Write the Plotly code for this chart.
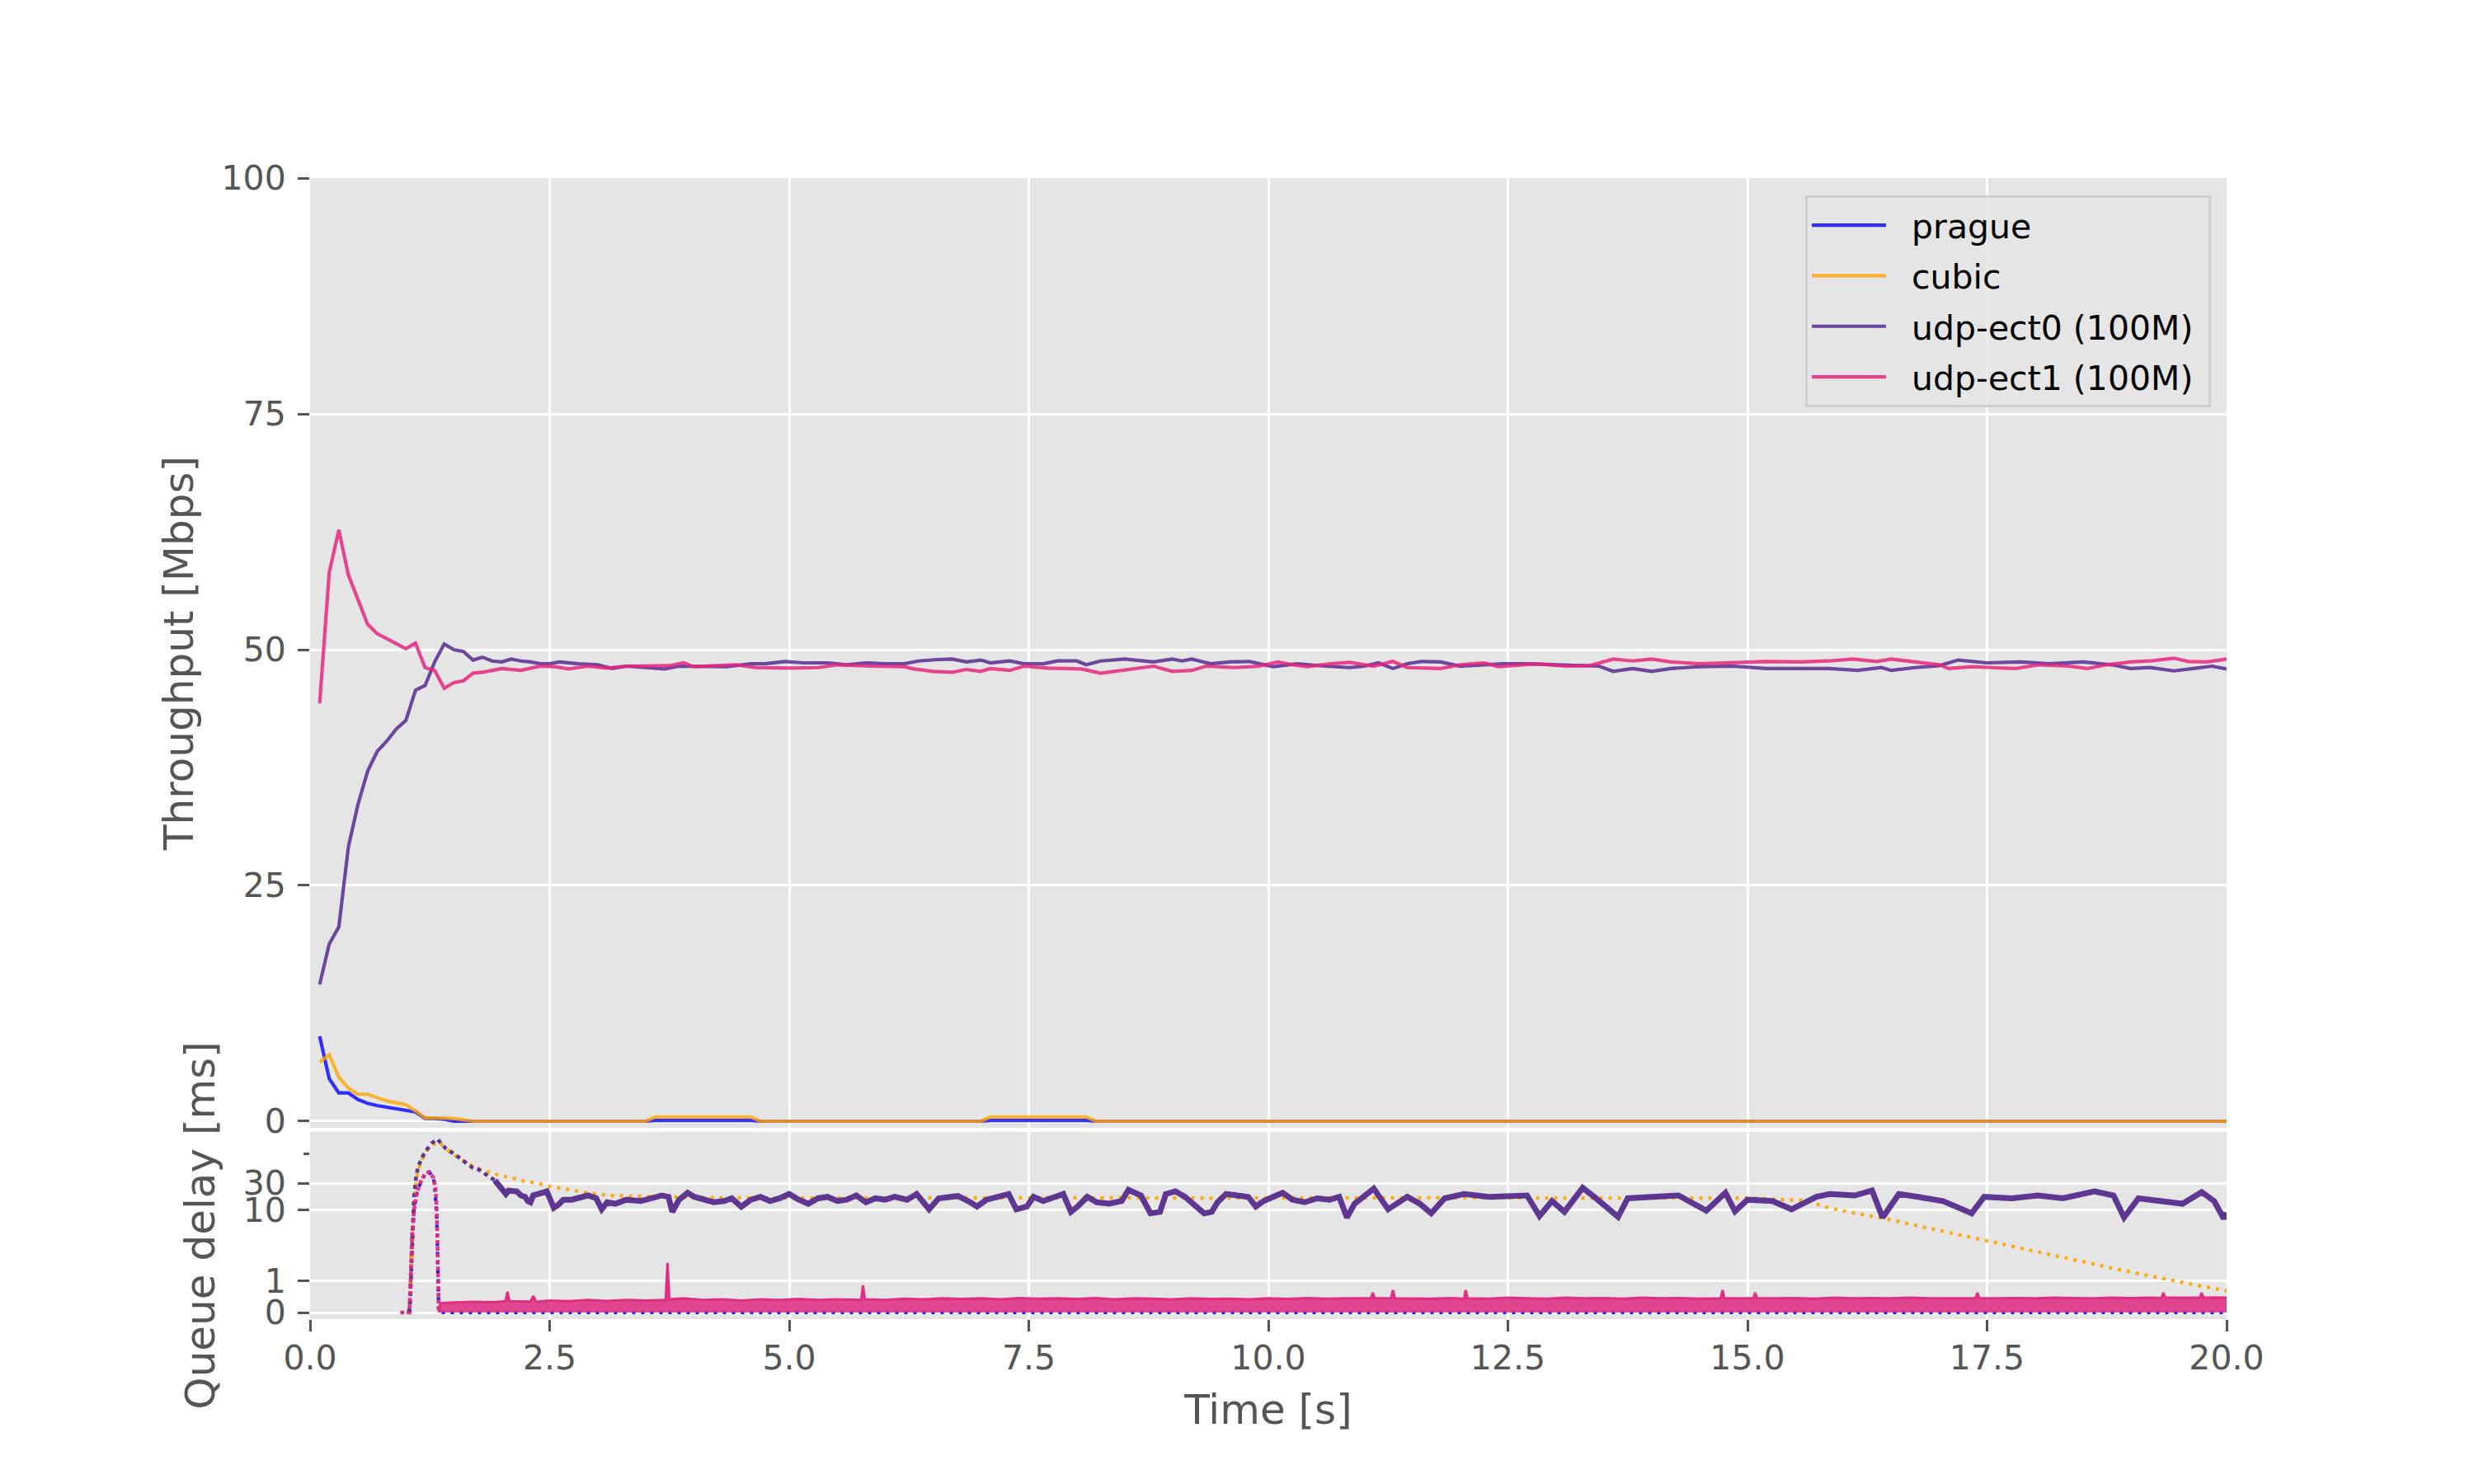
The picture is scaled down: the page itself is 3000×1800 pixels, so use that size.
import math
import plotly.graph_objects as go

# ---------------- data ----------------
# Throughput [Mbps]
prague_tp = [(0.1, 9.0), (0.2, 4.5), (0.3, 3.0), (0.4, 3.0), (0.5, 2.3), (0.6, 1.9), (0.7, 1.66), (0.8, 1.47),
             (0.9, 1.33), (1.0, 1.17), (1.1, 0.99), (1.2, 0.3), (1.3, 0.3), (1.4, 0.2), (1.5, 0.0), (1.6, 0.0),
             (3.5, 0.0), (3.6, 0.1), (4.6, 0.1), (4.7, 0.0), (7.0, 0.0), (7.1, 0.1), (8.1, 0.1), (8.2, 0.0), (20.0, 0.0)]
cubic_tp = [(0.1, 6.27), (0.2, 7.05), (0.3, 4.66), (0.4, 3.5), (0.5, 2.86), (0.6, 2.86), (0.7, 2.5), (0.8, 2.16),
            (0.9, 1.95), (1.0, 1.75), (1.1, 1.1), (1.2, 0.35), (1.3, 0.35), (1.4, 0.3), (1.5, 0.3), (1.6, 0.15),
            (1.7, 0.0), (3.5, 0.0), (3.6, 0.45), (4.6, 0.45), (4.7, 0.0), (7.0, 0.0), (7.1, 0.45), (8.1, 0.45),
            (8.2, 0.0), (20.0, 0.0)]
ect0_tp = [(0.1, 14.5), (0.2, 18.8), (0.3, 20.6), (0.4, 29.1), (0.5, 33.6), (0.6, 37.1), (0.7, 39.2), (0.8, 40.3),
           (0.9, 41.6), (1.0, 42.5), (1.1, 45.7), (1.2, 46.2), (1.3, 48.7), (1.4, 50.6), (1.5, 50.0), (1.6, 49.8),
           (1.7, 48.9), (1.8, 49.2), (1.9, 48.8), (2.0, 48.7), (2.1, 49.0), (2.2, 48.8), (2.3, 48.7), (2.4, 48.5),
           (2.5, 48.5), (2.6, 48.7), (2.8, 48.5), (3.0, 48.4), (3.15, 48.0), (3.3, 48.25), (3.5, 48.1), (3.7, 47.96),
           (3.85, 48.25), (4.05, 48.2), (4.35, 48.2), (4.6, 48.5), (4.75, 48.5), (4.95, 48.75), (5.15, 48.6),
           (5.4, 48.6), (5.6, 48.4), (5.8, 48.6), (6.0, 48.5), (6.2, 48.5), (6.35, 48.8), (6.55, 48.95), (6.7, 49.0),
           (6.85, 48.7), (7.0, 48.9), (7.1, 48.6), (7.3, 48.8), (7.45, 48.5), (7.65, 48.5), (7.8, 48.8), (8.0, 48.8),
           (8.1, 48.4), (8.25, 48.8), (8.5, 49.0), (8.8, 48.7), (9.0, 49.0), (9.1, 48.8), (9.2, 49.0), (9.4, 48.5),
           (9.6, 48.7), (9.8, 48.75), (10.05, 48.2), (10.3, 48.5), (10.6, 48.25), (10.85, 48.1), (11.0, 48.25),
           (11.15, 48.6), (11.3, 48.0), (11.45, 48.5), (11.6, 48.75), (11.8, 48.7), (12.0, 48.25), (12.25, 48.4),
           (12.45, 48.5), (12.7, 48.5), (12.95, 48.4), (13.2, 48.3), (13.45, 48.25), (13.6, 47.7), (13.8, 48.0),
           (14.0, 47.7), (14.2, 48.0), (14.5, 48.2), (14.85, 48.25), (15.2, 48.0), (15.55, 48.0), (15.85, 48.0),
           (16.15, 47.8), (16.4, 48.1), (16.5, 47.8), (16.75, 48.1), (17.0, 48.3), (17.2, 48.9), (17.5, 48.6),
           (17.85, 48.7), (18.15, 48.5), (18.5, 48.7), (18.8, 48.4), (19.0, 48.0), (19.2, 48.1), (19.45, 47.75),
           (19.65, 48.0), (19.85, 48.25), (20.0, 47.96)]
ect1_tp = [(0.1, 44.3), (0.2, 58.2), (0.3, 62.7), (0.4, 57.9), (0.5, 55.3), (0.6, 52.7), (0.7, 51.7), (0.8, 51.2),
           (0.9, 50.6), (1.0, 50.1), (1.1, 50.7), (1.2, 48.1), (1.3, 47.8), (1.4, 45.9), (1.5, 46.5), (1.6, 46.7),
           (1.7, 47.5), (1.8, 47.6), (1.9, 47.8), (2.0, 48.0), (2.2, 47.8), (2.4, 48.25), (2.55, 48.2), (2.7, 47.96),
           (2.9, 48.25), (3.1, 48.05), (3.3, 48.25), (3.6, 48.3), (3.75, 48.3), (3.9, 48.6), (4.0, 48.2), (4.25, 48.3),
           (4.45, 48.4), (4.65, 48.1), (5.0, 48.05), (5.3, 48.1), (5.5, 48.4), (5.85, 48.25), (6.2, 48.2), (6.3, 47.96),
           (6.5, 47.7), (6.7, 47.6), (6.85, 47.9), (7.0, 47.7), (7.1, 48.0), (7.3, 47.8), (7.45, 48.25), (7.7, 48.05),
           (8.05, 47.96), (8.25, 47.5), (8.5, 47.8), (8.8, 48.25), (9.0, 47.7), (9.2, 47.8), (9.35, 48.25),
           (9.65, 48.1), (9.9, 48.25), (10.0, 48.5), (10.1, 48.7), (10.25, 48.4), (10.4, 48.2), (10.65, 48.5),
           (10.85, 48.65), (11.1, 48.25), (11.3, 48.75), (11.45, 48.1), (11.8, 48.0), (12.0, 48.4), (12.25, 48.6),
           (12.4, 48.2), (12.8, 48.5), (13.1, 48.25), (13.35, 48.3), (13.6, 49.0), (13.8, 48.8), (14.0, 49.0),
           (14.2, 48.7), (14.5, 48.5), (14.85, 48.6), (15.2, 48.75), (15.55, 48.7), (15.85, 48.8), (16.1, 49.0),
           (16.35, 48.75), (16.5, 49.0), (16.75, 48.7), (17.0, 48.4), (17.1, 48.0), (17.35, 48.2), (17.55, 48.1),
           (17.8, 48.0), (18.05, 48.4), (18.35, 48.25), (18.55, 48.0), (18.75, 48.4), (19.0, 48.7), (19.2, 48.8),
           (19.45, 49.1), (19.6, 48.75), (19.8, 48.7), (20.0, 49.0)]

# Queue delay [ms]
prague_delay = [(1.04, 0.0), (1.051, 1.45), (1.066, 3.8), (1.086, 10.4), (1.114, 20.4), (1.157, 32.0),
                (1.2, 43.7), (1.243, 47.3), (1.286, 37.7), (1.3, 28.5), (1.314, 14.5), (1.323, 6.7),
                (1.329, 2.19), (1.334, 1.19), (1.337, 0.32), (1.343, 0.0), (20.0, 0.0)]
cubic_delay = [(1.03, 0.0), (1.043, 0.5), (1.057, 1.5), (1.071, 6.0), (1.086, 15.0), (1.109, 35.0), (1.129, 52.0),
               (1.171, 80.0), (1.214, 110.0), (1.271, 140.0), (1.343, 160.0), (1.471, 103.5), (1.586, 77.6),
               (1.643, 66.1), (1.814, 49.6), (1.9, 45.7), (2.0, 39.8), (2.086, 38.5), (2.186, 33.5), (2.271, 32.4),
               (2.371, 30.1), (2.457, 26.9), (2.557, 25.4), (2.643, 24.0), (2.729, 22.9), (2.829, 20.9),
               (2.929, 19.9), (3.014, 19.0), (3.114, 18.2), (3.286, 17.8), (3.6, 17.2), (4.2, 16.6), (5.0, 16.4),
               (6.0, 16.6), (7.0, 16.4), (8.0, 16.6), (9.0, 16.4), (10.0, 16.6), (11.0, 16.4), (12.0, 16.6),
               (13.0, 16.4), (14.0, 16.6), (15.0, 16.4), (15.62, 14.8), (15.79, 11.6), (15.99, 9.8), (16.45, 7.0),
               (16.91, 4.73), (17.5, 2.88), (18.22, 1.8), (18.95, 1.32), (19.67, 0.88), (19.97, 0.71), (20.0, 0.69)]
ect0_delay = [(1.03, 0.0), (1.043, 0.32), (1.051, 0.93), (1.057, 1.45), (1.066, 2.43), (1.071, 9.3), (1.086, 18.2),
              (1.109, 42.2), (1.129, 58.9), (1.171, 87.1), (1.214, 115.0), (1.271, 153.0), (1.329, 180.0),
              (1.414, 124.0), (1.471, 108.0), (1.529, 92.0), (1.586, 77.6), (1.643, 66.0), (1.7, 55.6),
              (1.757, 52.5), (1.814, 44.7), (1.871, 39.8), (1.929, 33.5), (1.971, 26.9), (2.014, 21.5),
              (2.043, 19.3), (2.071, 22.1), (2.129, 20.9), (2.157, 21.5), (2.2, 18.2), (2.243, 17.2), (2.271, 14.5),
              (2.3, 13.8), (2.329, 18.2), (2.386, 19.3), (2.443, 20.3), (2.471, 21.5), (2.514, 14.5), (2.543, 11.0),
              (2.586, 12.3), (2.643, 15.3), (2.729, 15.3), (2.814, 17.2), (2.9, 18.2), (2.986, 16.2), (3.043, 10.35),
              (3.1, 13.8), (3.186, 13.0), (3.3, 15.3), (3.45, 14.5), (3.51, 15.3), (3.6, 17.2), (3.67, 18.2),
              (3.74, 17.2), (3.78, 9.3), (3.85, 15.3), (3.94, 20.3), (4.01, 17.2), (4.1, 15.3), (4.21, 13.8),
              (4.32, 14.5), (4.4, 16.2), (4.5, 11.5), (4.6, 15.3), (4.7, 17.2), (4.8, 14.5), (4.9, 16.2), (5.0, 19.3),
              (5.1, 15.3), (5.2, 13.0), (5.3, 16.2), (5.4, 17.2), (5.5, 14.5), (5.6, 15.3), (5.7, 18.2), (5.8, 13.8),
              (5.9, 16.2), (6.0, 15.3), (6.1, 17.2), (6.23, 15.3), (6.33, 19.3), (6.46, 10.35), (6.56, 16.2),
              (6.66, 17.2), (6.76, 17.8), (6.89, 13.8), (6.96, 11.6), (7.06, 15.3), (7.19, 17.2), (7.29, 19.3),
              (7.37, 10.35), (7.48, 11.6), (7.55, 17.2), (7.65, 14.5), (7.75, 16.6), (7.86, 19.3), (7.94, 9.33),
              (8.01, 11.6), (8.11, 17.2), (8.21, 13.8), (8.34, 13.0), (8.47, 14.5), (8.54, 22.8), (8.67, 18.2),
              (8.77, 8.8), (8.87, 9.33), (8.93, 19.3), (9.03, 21.5), (9.13, 17.2), (9.26, 11.6), (9.33, 8.8),
              (9.41, 9.33), (9.47, 13.8), (9.56, 19.3), (9.69, 18.2), (9.79, 17.2), (9.87, 11.6), (9.95, 14.5),
              (10.05, 17.2), (10.15, 20.3), (10.25, 15.3), (10.38, 13.8), (10.51, 16.2), (10.64, 15.3),
              (10.74, 17.2), (10.82, 7.4), (10.9, 13.0), (11.0, 17.2), (11.1, 24.0), (11.25, 10.35), (11.45, 17.2),
              (11.58, 13.0), (11.7, 8.8), (11.84, 16.2), (12.04, 19.3), (12.3, 17.2), (12.5, 18.2), (12.7, 18.2),
              (12.83, 7.85), (12.96, 14.5), (13.09, 9.33), (13.28, 24.8), (13.42, 16.2), (13.65, 7.6), (13.75, 16.2),
              (14.01, 17.2), (14.28, 18.2), (14.57, 9.8), (14.77, 20.3), (14.87, 9.5), (15.0, 15.3), (15.26, 14.5),
              (15.46, 10.35), (15.72, 17.2), (15.86, 19.3), (16.12, 18.2), (16.3, 22.3), (16.41, 7.4), (16.58, 19.3),
              (16.78, 17.2), (17.04, 14.5), (17.34, 8.8), (17.47, 17.2), (17.76, 16.2), (18.03, 18.2), (18.29, 16.2),
              (18.62, 21.5), (18.82, 18.2), (18.93, 7.4), (19.08, 16.2), (19.34, 14.5), (19.54, 13.0), (19.74, 20.8),
              (19.87, 14.5), (19.97, 7.1), (20.0, 9.0)]
ect1_delay_peak = [(0.94, 0.0), (1.037, 0.0), (1.043, 0.58), (1.051, 1.45), (1.066, 3.8), (1.086, 10.4),
                   (1.114, 20.4), (1.157, 32.0), (1.2, 43.7), (1.243, 47.3), (1.286, 37.7), (1.309, 24.0),
                   (1.32, 11.6), (1.329, 3.0), (1.334, 1.45), (1.337, 0.4), (1.343, 0.0)]
ect1_delay_band = [(1.343, 0.0), (1.36, 0.3), (1.5, 0.32), (1.7, 0.34), (1.9, 0.33), (2.04, 0.36), (2.06, 0.66),
                   (2.08, 0.36), (2.3, 0.35), (2.33, 0.53), (2.36, 0.34), (2.5, 0.38), (2.7, 0.36), (2.9, 0.4),
                   (3.1, 0.37), (3.3, 0.4), (3.5, 0.38), (3.71, 0.4), (3.73, 1.58), (3.75, 0.42), (3.9, 0.45),
                   (4.1, 0.4), (4.3, 0.42), (4.5, 0.38), (4.7, 0.42), (4.9, 0.4), (5.1, 0.43), (5.3, 0.4), (5.5, 0.42),
                   (5.75, 0.4), (5.77, 0.87), (5.79, 0.42), (6.0, 0.4), (6.2, 0.44), (6.4, 0.42), (6.6, 0.45),
                   (6.8, 0.43), (7.0, 0.45), (7.2, 0.42), (7.4, 0.46), (7.6, 0.44), (7.8, 0.45), (8.0, 0.43),
                   (8.2, 0.46), (8.4, 0.42), (8.6, 0.45), (8.8, 0.44), (9.0, 0.42), (9.2, 0.45), (9.4, 0.43),
                   (9.6, 0.44), (9.8, 0.42), (10.0, 0.45), (10.2, 0.43), (10.4, 0.46), (10.6, 0.44), (10.8, 0.45),
                   (11.07, 0.45), (11.09, 0.63), (11.11, 0.45), (11.28, 0.46), (11.3, 0.71), (11.32, 0.45),
                   (11.5, 0.45), (11.7, 0.44), (11.9, 0.46), (12.04, 0.44), (12.06, 0.71), (12.08, 0.45), (12.3, 0.44),
                   (12.5, 0.47), (12.7, 0.45), (12.9, 0.44), (13.1, 0.47), (13.3, 0.45), (13.5, 0.46), (13.7, 0.44),
                   (13.9, 0.47), (14.1, 0.45), (14.3, 0.46), (14.5, 0.44), (14.72, 0.45), (14.74, 0.71), (14.76, 0.46),
                   (14.9, 0.46), (15.06, 0.45), (15.08, 0.63), (15.1, 0.45), (15.3, 0.45), (15.5, 0.46), (15.7, 0.44),
                   (15.9, 0.47), (16.1, 0.45), (16.3, 0.46), (16.5, 0.45), (16.7, 0.47), (16.9, 0.45), (17.1, 0.46),
                   (17.38, 0.46), (17.4, 0.63), (17.42, 0.45), (17.6, 0.45), (17.8, 0.46), (18.0, 0.45), (18.2, 0.47),
                   (18.4, 0.46), (18.6, 0.45), (18.8, 0.47), (19.0, 0.46), (19.2, 0.47), (19.32, 0.46), (19.34, 0.63),
                   (19.36, 0.47), (19.5, 0.47), (19.72, 0.47), (19.74, 0.63), (19.76, 0.47), (19.9, 0.48), (20.0, 0.47)]

x_ticks = [0, 2.5, 5, 7.5, 10, 12.5, 15, 17.5, 20]
x_ticklabels = ["0.0", "2.5", "5.0", "7.5", "10.0", "12.5", "15.0", "17.5", "20.0"]
tp_ticks = [0, 25, 50, 75, 100]
delay_ticks = [0, 1, 10, 30]
delay_ticklabels = ["0", "1", "10", "30"]
delay_minor_ticks = [100]

# ---------------- symlog scale (linthresh=2, linscale=1) ----------------
LINTHRESH = 2.0
LINSCALE_ADJ = 1.0 / (1.0 - 1.0 / 10.0)


def symlog(v):
    if abs(v) <= LINTHRESH:
        return v * LINSCALE_ADJ
    return math.copysign(LINTHRESH * (LINSCALE_ADJ + math.log10(abs(v) / LINTHRESH)), v)


def xs(pairs):
    return [p[0] for p in pairs]


def ys(pairs, f=None):
    return [f(p[1]) if f else p[1] for p in pairs]


C_PRAGUE = "rgba(0,0,255,0.8)"
C_CUBIC = "rgba(255,165,0,0.8)"
C_ECT0 = "rgba(88,42,145,0.85)"
C_ECT1 = "rgba(232,38,124,0.85)"
DOT = "4px,7px"
NB = "\u00a0"

fig = go.Figure()

# top: throughput
for name, data, col in [("prague", prague_tp, C_PRAGUE), ("cubic", cubic_tp, C_CUBIC),
                        ("udp-ect0 (100M)", ect0_tp, C_ECT0), ("udp-ect1 (100M)", ect1_tp, C_ECT1)]:
    fig.add_trace(go.Scatter(x=xs(data), y=ys(data), mode="lines", name=NB * 2 + name + NB,
                             legendgroup=name,
                             line=dict(color=col, width=4.2), xaxis="x", yaxis="y"))

# bottom: queue delay
fig.add_trace(go.Scatter(x=xs(prague_delay), y=ys(prague_delay, symlog), mode="lines", showlegend=False,
                         line=dict(color="rgba(0,0,255,0.9)", width=4.2, dash=DOT), xaxis="x2", yaxis="y2"))
fig.add_trace(go.Scatter(x=xs(cubic_delay), y=ys(cubic_delay, symlog), mode="lines", showlegend=False,
                         line=dict(color="rgba(255,165,0,0.95)", width=4.2, dash=DOT), xaxis="x2", yaxis="y2"))
split = next(i for i, p in enumerate(ect0_delay) if p[0] >= 1.9)
early, late = ect0_delay[:split + 1], ect0_delay[split:]
fig.add_trace(go.Scatter(x=xs(early), y=ys(early, symlog), mode="lines", showlegend=False,
                         line=dict(color="rgba(85,45,140,0.95)", width=4.6, dash="5px,5px"), xaxis="x2", yaxis="y2"))
fig.add_trace(go.Scatter(x=xs(late), y=ys(late, symlog), mode="lines", showlegend=False,
                         line=dict(color="rgba(85,45,140,0.95)", width=7), xaxis="x2", yaxis="y2"))
fig.add_trace(go.Scatter(x=xs(ect1_delay_peak), y=ys(ect1_delay_peak, symlog), mode="lines", showlegend=False,
                         line=dict(color="rgba(222,42,128,0.95)", width=4.6, dash="5px,3px"), xaxis="x2", yaxis="y2"))
fig.add_trace(go.Scatter(x=xs(ect1_delay_band), y=ys(ect1_delay_band, symlog), mode="lines", showlegend=False,
                         fill="tozeroy", fillcolor="rgba(222,42,128,0.85)",
                         line=dict(color="rgba(222,42,128,0.95)", width=3), xaxis="x2", yaxis="y2"))

GRID = dict(gridcolor="white", gridwidth=3.3, zeroline=False, showline=False, automargin=False)
TICKS = dict(ticks="outside", ticklen=14, tickwidth=3.3, tickcolor="#555555",
             tickfont=dict(size=41, color="#555555"))
TITLE_FONT = dict(size=50, color="#555555")

L, R, T, B = 376, 300, 216, 200
ph = 1800 - T - B

fig.update_layout(
    width=3000, height=1800,
    margin=dict(l=L, r=R, t=T, b=B, pad=0),
    paper_bgcolor="white", plot_bgcolor="#e5e5e5",
    font=dict(family="DejaVu Sans", color="#555555", size=41),
    showlegend=True,
    legend=dict(x=(2681 - L) / (3000 - L - R), xanchor="right", y=1 - (237 - T) / ph, yanchor="top",
                bgcolor="rgba(229,229,229,0.8)", bordercolor="#cfcfcf", borderwidth=3,
                font=dict(size=41, color="#000000"), itemwidth=90, tracegroupgap=5),
    xaxis=dict(domain=[0, 1], range=[0, 20], anchor="y", tickvals=x_ticks, showticklabels=False, ticks="",
               matches="x2", **GRID),
    yaxis=dict(domain=[(1600 - 1368) / ph, 1], range=[-0.7, 100], anchor="x", tickvals=tp_ticks,
               title=dict(text="Throughput [Mbps]", font=TITLE_FONT, standoff=18), ticklabelstandoff=6,
               **TICKS, **GRID),
    xaxis2=dict(domain=[0, 1], range=[0, 20], anchor="y2", tickvals=x_ticks, ticktext=x_ticklabels,
                title=dict(text="Time [s]", font=TITLE_FONT, standoff=21), ticklabelstandoff=-3,
                **TICKS, **GRID),
    yaxis2=dict(domain=[0, (1600 - 1373) / ph], range=[-0.233, 6.385], anchor="x2",
                tickvals=[symlog(v) for v in delay_ticks], ticktext=delay_ticklabels,
                minor=dict(tickvals=[symlog(v) for v in delay_minor_ticks], ticks="outside", ticklen=7,
                           tickwidth=2.5, tickcolor="#555555", showgrid=False),
                title=dict(text="Queue delay [ms]", font=TITLE_FONT, standoff=18), ticklabelstandoff=6,
                **TICKS, **GRID),
)

fig.write_html("out.html")
